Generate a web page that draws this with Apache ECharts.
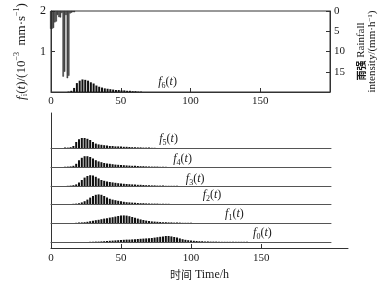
<!DOCTYPE html>
<html>
<head>
<meta charset="utf-8">
<script src="https://cdn.jsdelivr.net/npm/echarts@6/dist/echarts.min.js"></script>
<style>
  html, body { margin: 0; padding: 0; background: #fff; }
  #chart { width: 388px; height: 291px; }
</style>
</head>
<body>
<div id="chart"></div>
<script>
// time axis ticks (h)
const timeTicks = [0, 50, 100, 150]

// rainfall intensity (mm/h), hourly bars
const rainHours = [0.5, 1.5, 2.5, 3.5, 4.5, 5.5, 6.5, 7.5, 8.5, 9.5, 10.5, 11.5, 12.5, 13.5, 14.5, 15.5, 16.5, 17.5]
const rain = [4.4, 4.4, 4.2, 2.8, 2.6, 1.0, 1.5, 1.6, 0.5, 16.2, 15.0, 1.0, 16.6, 16.0, 0.6, 0.4, 0.3, 0.3]

// f_i(t) in 10^-3 mm/s, sampled every 2 h from the given start hour
const step = 2
const f6Start = 10
const f6 = [0, 0.01, 0.03, 0.1, 0.22, 0.28, 0.31, 0.3, 0.28, 0.24, 0.21, 0.16, 0.13, 0.11, 0.09, 0.08, 0.07, 0.06, 0.05, 0.05, 0.04, 0.04, 0.03, 0.03, 0.02, 0.02, 0.01, 0.01]
const f5Start = 10
const f5 = [0.01, 0.01, 0.02, 0.05, 0.15, 0.22, 0.25, 0.25, 0.23, 0.2, 0.15, 0.11, 0.09, 0.08, 0.07, 0.06, 0.05, 0.05, 0.04, 0.04, 0.035, 0.03, 0.03, 0.025, 0.02, 0.02, 0.015, 0.015, 0.01, 0.01, 0.01, 0.005, 0.005]
const f4Start = 10
const f4 = [0.005, 0.01, 0.015, 0.03, 0.08, 0.17, 0.23, 0.27, 0.27, 0.25, 0.21, 0.17, 0.14, 0.12, 0.1, 0.09, 0.08, 0.07, 0.06, 0.055, 0.05, 0.045, 0.04, 0.035, 0.03, 0.03, 0.025, 0.02, 0.02, 0.015, 0.015, 0.01, 0.01, 0.01, 0.005, 0.005, 0.005]
const f3Start = 12
const f3 = [0.005, 0.01, 0.02, 0.04, 0.09, 0.15, 0.21, 0.25, 0.27, 0.26, 0.23, 0.19, 0.15, 0.13, 0.11, 0.1, 0.09, 0.08, 0.07, 0.06, 0.055, 0.05, 0.045, 0.04, 0.035, 0.03, 0.03, 0.025, 0.02, 0.02, 0.015, 0.015, 0.01, 0.01, 0.01, 0.005, 0.005, 0.005, 0.005, 0.005]
const f2Start = 16
const f2 = [0.005, 0.01, 0.02, 0.04, 0.07, 0.11, 0.16, 0.2, 0.23, 0.24, 0.23, 0.2, 0.16, 0.13, 0.11, 0.095, 0.08, 0.07, 0.055, 0.045, 0.04, 0.035, 0.03, 0.025, 0.02, 0.02, 0.015, 0.015, 0.01, 0.01, 0.01, 0.005, 0.005, 0.005, 0.005]
const f1Start = 18
const f1 = [0.005, 0.01, 0.015, 0.02, 0.03, 0.045, 0.055, 0.07, 0.08, 0.095, 0.11, 0.12, 0.135, 0.145, 0.16, 0.175, 0.185, 0.19, 0.185, 0.17, 0.15, 0.13, 0.11, 0.09, 0.075, 0.06, 0.05, 0.04, 0.035, 0.03, 0.025, 0.02, 0.02, 0.015, 0.015, 0.01, 0.01, 0.01, 0.005, 0.005, 0.005, 0.005]
const f0Start = 28
const f0 = [0.005, 0.005, 0.01, 0.01, 0.015, 0.02, 0.025, 0.03, 0.035, 0.04, 0.045, 0.05, 0.055, 0.06, 0.06, 0.065, 0.07, 0.075, 0.08, 0.085, 0.09, 0.095, 0.1, 0.11, 0.12, 0.13, 0.14, 0.15, 0.15, 0.14, 0.125, 0.11, 0.09, 0.07, 0.055, 0.045, 0.035, 0.03, 0.025, 0.02, 0.02, 0.015, 0.015, 0.01, 0.01, 0.01, 0.005, 0.005, 0.005, 0.005, 0.005, 0.005, 0.005, 0.005, 0.005, 0.005, 0.005]

const serif = 'Liberation Serif, Noto Sans CJK SC, serif'
const ink = '#1a1a1a'

const rich = {
  it: { fontFamily: serif, fontStyle: 'italic', fontSize: 12, lineHeight: 16, color: ink },
  n: { fontFamily: serif, fontSize: 12, lineHeight: 16, color: ink },
  sub: { fontFamily: serif, fontSize: 8, lineHeight: 8, verticalAlign: 'bottom', color: ink },
  sup: { fontFamily: serif, fontSize: 7, lineHeight: 7, verticalAlign: 'top', color: ink },
  cn: { fontFamily: 'Noto Sans CJK SC', fontWeight: 'bold', fontSize: 10, color: ink }
}
const bigRich = {
  ...rich,
  it: { ...rich.it, fontSize: 13 },
  n: { ...rich.n, fontSize: 13 },
  sub: { ...rich.sub, fontSize: 9, lineHeight: 9 },
  sup: { ...rich.sup, fontSize: 8, lineHeight: 8 }
}
const fLabel = i => `{it|f}{sub|${i}}{n|(}{it|t}{n|)}`

function pairs(start, values) {
  return values.map((v, i) => [start + i * step, v])
}

// lower stacked curves, top to bottom
const curves = [
  { id: 5, start: f5Start, values: f5, baseline: 148, at: [84, 0.22] },
  { id: 4, start: f4Start, values: f4, baseline: 167, at: [94, 0.2] },
  { id: 3, start: f3Start, values: f3, baseline: 186, at: [103, 0.18] },
  { id: 2, start: f2Start, values: f2, baseline: 204, at: [115, 0.22] },
  { id: 1, start: f1Start, values: f1, baseline: 223, at: [131, 0.22] },
  { id: 0, start: f0Start, values: f0, baseline: 242, at: [151, 0.22] }
]

const axisLine = { lineStyle: { color: '#333', width: 1 } }
const tickLabel = { fontFamily: serif, fontSize: 11, color: ink }

const grid = [
  { left: 51, top: 11, width: 279, height: 81, show: true, borderColor: '#333', borderWidth: 1 },
  { left: 51, top: 113, width: 297, height: 135 }
]
const xAxis = [
  {
    gridIndex: 0, type: 'value', min: 0, max: 200, interval: 50,
    axisLine, splitLine: { show: false },
    axisTick: { inside: true, length: 4, lineStyle: { color: '#333' }, customValues: timeTicks },
    axisLabel: { ...tickLabel, margin: 4, customValues: timeTicks }
  },
  {
    gridIndex: 1, type: 'value', min: 0, max: 212, interval: 50,
    axisLine, splitLine: { show: false },
    axisTick: { inside: true, length: 4, lineStyle: { color: '#333' }, customValues: timeTicks },
    axisLabel: { ...tickLabel, margin: 5, customValues: timeTicks },
    name: '{cn|时间} Time/h', nameLocation: 'middle', nameGap: 21,
    nameTextStyle: { fontFamily: serif, fontSize: 12, color: ink, rich: { cn: { fontFamily: 'Noto Sans CJK SC', fontSize: 11, color: ink } } }
  }
]
const yAxis = [
  {
    gridIndex: 0, type: 'value', min: 0, max: 2, interval: 1,
    axisLine: { show: true, ...axisLine }, splitLine: { show: false },
    axisTick: { inside: true, length: 4, lineStyle: { color: '#333' } },
    axisLabel: { ...tickLabel, fontSize: 12, margin: 5, showMinLabel: false },
    name: '{it|f}{sub|i}{n|(}{it|t}{n|)/(10}{sup|−3}{n|  mm·s}{sup|−1}{n|)}',
    nameLocation: 'middle', nameRotate: 90, nameGap: 17,
    nameTextStyle: { fontFamily: serif, fontSize: 13, color: ink, rich: bigRich }
  },
  {
    gridIndex: 0, type: 'value', min: 0, max: 20, interval: 5, inverse: true, position: 'right',
    axisLine: { show: true, ...axisLine }, splitLine: { show: false },
    axisTick: { inside: true, length: 4, lineStyle: { color: '#333' } },
    axisLabel: { ...tickLabel, margin: 4, showMaxLabel: false },
    name: '{cn|雨强} Rainfall\nintensity/(mm·h{sup|−1})',
    nameLocation: 'middle', nameRotate: 90, nameGap: 22,
    nameTextStyle: { fontFamily: serif, fontSize: 11, lineHeight: 11, color: ink, rich }
  },
  {
    gridIndex: 1, type: 'value', min: 0, max: 1,
    axisLine: { show: true, ...axisLine }, splitLine: { show: false },
    axisTick: { show: false }, axisLabel: { show: false }
  }
]

const series = [
  {
    type: 'bar', xAxisIndex: 0, yAxisIndex: 1, barWidth: 1.4,
    data: rainHours.map((h, i) => [h, rain[i]]),
    itemStyle: { color: '#555', borderColor: '#111', borderWidth: 0.4 }
  },
  {
    type: 'bar', xAxisIndex: 0, yAxisIndex: 0, barWidth: 2,
    data: pairs(f6Start, f6),
    itemStyle: { color: '#111' },
    markPoint: {
      symbol: 'circle', symbolSize: 0,
      label: { show: true, position: 'inside', formatter: fLabel(6), rich },
      data: [{ coord: [83, 0.25] }]
    }
  }
]

curves.forEach(c => {
  const g = grid.length
  grid.push({ left: 51, width: 280, top: c.baseline - 18, height: 18 })
  xAxis.push({
    gridIndex: g, type: 'value', min: 0, max: 200,
    axisLine: { lineStyle: { color: '#555', width: 1 } },
    axisTick: { show: false }, axisLabel: { show: false }, splitLine: { show: false }
  })
  yAxis.push({ gridIndex: g, type: 'value', min: 0, max: 0.45, show: false })
  series.push({
    type: 'bar', xAxisIndex: xAxis.length - 1, yAxisIndex: yAxis.length - 1, barWidth: 2,
    data: pairs(c.start, c.values),
    itemStyle: { color: '#111' },
    markPoint: {
      symbol: 'circle', symbolSize: 0,
      label: { show: true, position: 'inside', formatter: fLabel(c.id), rich },
      data: [{ coord: c.at }]
    }
  })
})

const chart = echarts.init(document.getElementById('chart'), null, { renderer: 'canvas' })
chart.setOption({
  animation: false,
  backgroundColor: '#fff',
  grid, xAxis, yAxis, series
})
window.addEventListener('resize', () => chart.resize())
</script>
</body>
</html>
